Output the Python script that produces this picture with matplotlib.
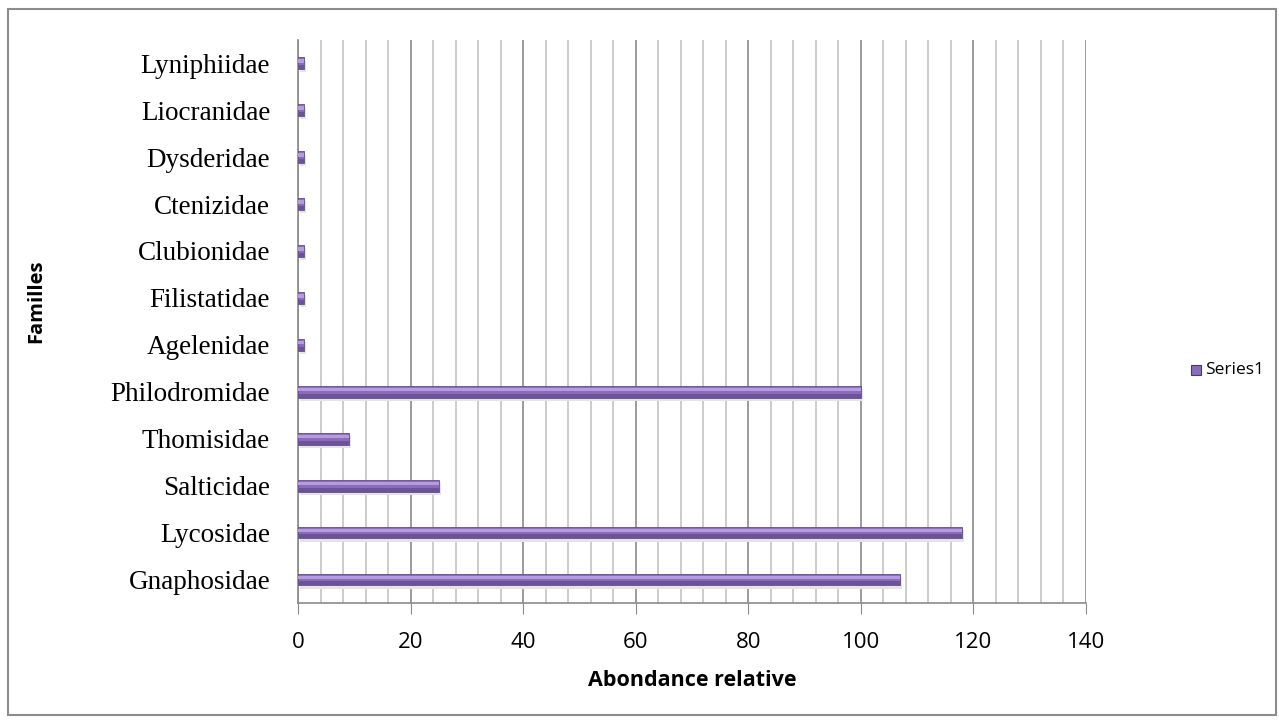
import matplotlib.pyplot as plt
from matplotlib.patches import Rectangle
from matplotlib.ticker import MultipleLocator
import numpy as np

families = ["Gnaphosidae", "Lycosidae", "Salticidae", "Thomisidae", "Philodromidae",
            "Agelenidae", "Filistatidae", "Clubionidae", "Ctenizidae", "Dysderidae",
            "Liocranidae", "Lyniphiidae"]
abondance = [107, 118, 25, 9, 100, 1, 1, 1, 1, 1, 1, 1]

sans = ["Open Sans", "DejaVu Sans"]
serif = ["Liberation Serif", "DejaVu Serif"]

fig = plt.figure(figsize=(12.79, 7.23), dpi=100)
ax = fig.add_axes([0.233, 0.166, 0.616, 0.779])

y = np.arange(len(families))
h = 0.25

# soft shadow, body, dark lower edge and light upper stripe for a bevelled look
ax.barh(y - 0.07, abondance, height=h, left=0.4, color="#e4e4e4", zorder=2)
ax.barh(y, abondance, height=h, color="#8a6cbc", edgecolor="#654b8f", lw=0.6, zorder=3)
ax.barh(y - h * 0.33, abondance, height=h * 0.34, color="#6c5398", zorder=4)
ax.barh(y + h * 0.18, abondance, height=h * 0.3, color="#b59cdc", zorder=4)

ax.set_xlim(0, 140)
ax.set_ylim(-0.5, len(families) - 0.5)
ax.xaxis.set_major_locator(MultipleLocator(20))
ax.xaxis.set_minor_locator(MultipleLocator(4))
ax.grid(axis="x", which="minor", color="#c4c4c4", lw=1.2, zorder=0)
ax.grid(axis="x", which="major", color="#8a8a8a", lw=1.2, zorder=1)
ax.set_axisbelow(True)

ax.set_yticks(y)
ax.set_yticklabels(families, family=serif, fontsize=19.5)
ax.tick_params(axis="y", length=0, pad=20)
ax.tick_params(axis="x", which="major", length=8, color="#8a8a8a", pad=13,
               labelsize=16)
ax.tick_params(axis="x", which="minor", length=0)
for lbl in ax.get_xticklabels():
    lbl.set_family(sans)

for side in ("top", "right"):
    ax.spines[side].set_visible(False)
for side in ("left", "bottom"):
    ax.spines[side].set_color("#8a8a8a")
    ax.spines[side].set_linewidth(1.2)

ax.set_xlabel("Abondance relative", family=sans, fontsize=15.5, fontweight="bold",
              labelpad=12)
fig.text(0.028, 0.584, "Familles", family=sans, fontsize=14.5, fontweight="bold",
         rotation=90, ha="center", va="center")

# legend
fig.patches.append(Rectangle((0.931, 0.481), 0.0078, 0.014, transform=fig.transFigure,
                             facecolor="#8a6cbc", edgecolor="#4b3868", lw=0.8))
fig.text(0.942, 0.488, "Series1", family=sans, fontsize=12.5, va="center")

# chart border
fig.patches.append(Rectangle((0.0065, 0.011), 0.9915, 0.977, transform=fig.transFigure,
                             fill=False, edgecolor="#8c8c8c", lw=1.5))

fig.savefig("out.png", dpi=100)
